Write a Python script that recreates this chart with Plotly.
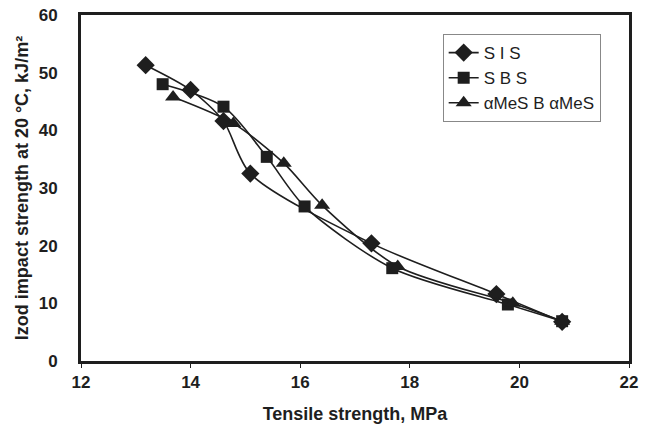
import plotly.graph_objects as go

sis_x = [13.18, 14.0, 14.6, 15.09, 17.3, 19.58, 20.78]
sis_y = [51.3, 47.0, 41.6, 32.5, 20.4, 11.6, 6.8]
sbs_x = [13.49, 14.6, 15.39, 16.08, 17.68, 19.79, 20.78]
sbs_y = [48.0, 44.1, 35.4, 26.8, 16.1, 9.8, 6.9]
ams_x = [13.68, 14.78, 15.7, 16.4, 17.78, 19.88, 20.78]
ams_y = [45.8, 41.2, 34.3, 27.0, 16.4, 10.0, 6.9]
names = ["S I S", "S B S", "αMeS B αMeS"]
x_ticks = [12, 14, 16, 18, 20, 22]
y_ticks = [0, 10, 20, 30, 40, 50, 60]

ink = "#1e1e1e"
fam = "Liberation Sans, Arial, sans-serif"
fig = go.Figure()
for xs, ys, nm, sym, sz in [
    (sis_x, sis_y, names[0], "diamond", 14),
    (sbs_x, sbs_y, names[1], "square", 12),
    (ams_x, ams_y, names[2], "triangle-up", 14),
]:
    fig.add_trace(go.Scatter(
        x=xs, y=ys, name=nm, mode="lines+markers",
        line=dict(color=ink, width=1.6, shape="spline", smoothing=0.8),
        marker=dict(symbol=sym, size=sz, color=ink),
    ))

fig.update_layout(
    width=648, height=425,
    margin=dict(l=81, r=19, t=15, b=64),
    paper_bgcolor="white", plot_bgcolor="white",
    font=dict(family=fam, color=ink),
    showlegend=True,
    legend=dict(
        x=0.660, y=0.945, xanchor="left", yanchor="top",
        bgcolor="white", bordercolor="#888", borderwidth=1,
        font=dict(size=17, color=ink), tracegroupgap=0,
    ),
    xaxis=dict(
        range=[12, 22], tickvals=x_ticks, showgrid=False, zeroline=False,
        showline=True, linecolor=ink, linewidth=3, mirror=True,
        ticks="outside", ticklen=4, tickcolor=ink, tickwidth=1,
        automargin=False,
        tickfont=dict(size=17, family=fam, weight="bold"),
        title=dict(text="<b>Tensile strength, MPa</b>", font=dict(size=18), standoff=16),
    ),
    yaxis=dict(
        range=[0, 60], tickvals=y_ticks, showgrid=False, zeroline=False,
        showline=True, linecolor=ink, linewidth=3, mirror=True,
        ticks="", ticklabelstandoff=17, automargin=False,
        tickfont=dict(size=17, family=fam, weight="bold"),
        title=dict(text="<b>Izod impact strength at 20 °C, kJ/m²</b>", font=dict(size=18), standoff=6),
    ),
)
fig.write_html("out.html")
